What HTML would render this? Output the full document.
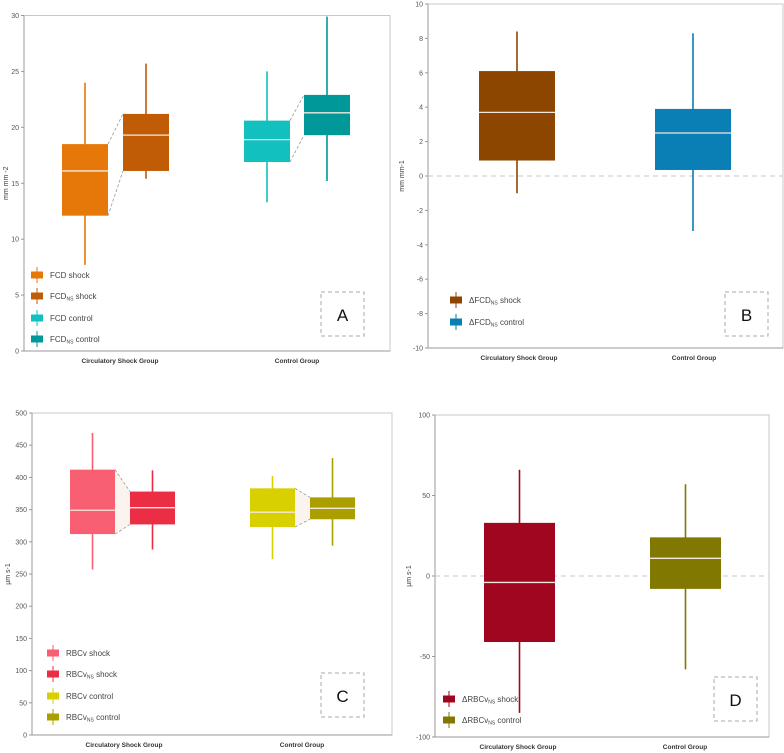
<!DOCTYPE html>
<html><head><meta charset="utf-8">
<style>
html,body{margin:0;padding:0;background:#fff;}
svg{display:block;font-family:"Liberation Sans",sans-serif;}
</style></head>
<body>
<svg id="c" width="784" height="753" viewBox="0 0 784 753" xmlns="http://www.w3.org/2000/svg"></svg>
<script>
const NS='http://www.w3.org/2000/svg';
const svg=document.getElementById('c');
// ---- data ----
const categoriesAll=['Circulatory Shock Group','Control Group'];
// Panel A
const aNames=['FCD shock','FCDNS shock','FCD control','FCDNS control'];
const aLow=[7.7,15.4,13.3,15.2];
const aQ1=[12.1,16.1,16.9,19.3];
const aMed=[16.1,19.3,18.9,21.3];
const aQ3=[18.5,21.2,20.6,22.9];
const aHigh=[24,25.7,25,29.9];
const aTicks=[0,5,10,15,20,25,30];
// Panel B
const bLow=[-1,-3.2];
const bQ1=[0.9,0.35];
const bMed=[3.7,2.5];
const bQ3=[6.1,3.9];
const bHigh=[8.4,8.3];
const bTicks=[-10,-8,-6,-4,-2,0,2,4,6,8,10];
// Panel C
const cLow=[257,288,273,294];
const cQ1=[312,327,323,335];
const cMed=[349,353,346,352];
const cQ3=[412,378,383,369];
const cHigh=[469,411,402,430];
const cTicks=[0,50,100,150,200,250,300,350,400,450,500];
// Panel D
const dLow=[-85,-58];
const dQ1=[-41,-8];
const dMed=[-4,11];
const dQ3=[33,24];
const dHigh=[66,57];
const dTicks=[-100,-50,0,50,100];

function el(tag,attrs,parent){const e=document.createElementNS(NS,tag);for(const k in attrs)e.setAttribute(k,attrs[k]);(parent||svg).appendChild(e);return e;}
function txt(s,attrs,parent){const e=el('text',attrs,parent);e.textContent=s;return e;}

function panel(p){
  const g=el('g',{});
  
  
  const y=v=>p.y0+(v-p.vmin)/(p.vmax-p.vmin)*(p.y1-p.y0);
  // frame
  const fr=el('rect',{x:p.fx0,y:p.y1,width:p.fx1-p.fx0,height:p.y0-p.y1,fill:'none',stroke:'#c8c8c8','stroke-width':1},g);
  
  el('line',{x1:p.fx0,y1:p.y0,x2:p.fx1,y2:p.y0,stroke:'#999','stroke-width':1},g);
  el('line',{x1:p.fx0,y1:p.y0,x2:p.fx0,y2:p.y1,stroke:'#999','stroke-width':1},g);
  p.ticks.forEach(t=>{
    el('line',{x1:p.fx0-3,y1:y(t),x2:p.fx0,y2:y(t),stroke:'#999'},g);
    const tl=txt(String(t),{x:p.fx0-5,y:y(t)+2.5,'font-size':7,fill:'#555','text-anchor':'end'},g);
    
  });
  const yt=txt(p.ytitle,{x:0,y:0,'font-size':7,fill:'#444','text-anchor':'middle',transform:`translate(${p.fx0-p.ytOff},${(p.y0+p.y1)/2}) rotate(-90)`},g);
  
  categoriesAll.forEach((c,i)=>{
    const xl=txt(c,{x:p.catX[i],y:p.y0+12,'font-size':6.5,'font-weight':'bold',fill:'#333','text-anchor':'middle'},g);
    
  });
  if(p.zero){const z=el('line',{x1:p.fx0,y1:y(0),x2:p.fx1,y2:y(0),stroke:'#c8c8c8','stroke-dasharray':'5,4'},g);
    }
  // connectors
  (p.pairs||[]).forEach(([a,b])=>{
    const xa=p.bx[a]+p.bw, xb=p.bx[b];
    if(p.connFill) el('polygon',{points:`${xa},${y(p.q3[a])} ${xb},${y(p.q3[b])} ${xb},${y(p.q1[b])} ${xa},${y(p.q1[a])}`,fill:'#fbf3ee'},g);
    el('line',{x1:xa,y1:y(p.q3[a]),x2:xb,y2:y(p.q3[b]),stroke:'#999','stroke-dasharray':'3,2','stroke-width':0.8},g);
    el('line',{x1:xa,y1:y(p.q1[a]),x2:xb,y2:y(p.q1[b]),stroke:'#999','stroke-dasharray':'3,2','stroke-width':0.8},g);
  });
  p.low.forEach((_,i)=>{
    const bg=el('g',{},g);
    
    
    const cx=p.bx[i]+p.bw/2;
    el('line',{x1:cx,y1:y(p.low[i]),x2:cx,y2:y(p.high[i]),stroke:p.colors[i],'stroke-width':1.6},bg);
    el('rect',{x:p.bx[i],y:y(p.q3[i]),width:p.bw,height:y(p.q1[i])-y(p.q3[i]),fill:p.colors[i]},bg);
    el('line',{x1:p.bx[i],y1:y(p.med[i]),x2:p.bx[i]+p.bw,y2:y(p.med[i]),stroke:'#f4e8dc','stroke-width':1.3},bg);
  });
  // legend
  p.labels.forEach((l,i)=>{
    const lg=el('g',{},g);
    
    
    const ly=p.legY[i];
    el('line',{x1:p.legX+6,y1:ly-8,x2:p.legX+6,y2:ly+8,stroke:p.colors[i],'stroke-width':1},lg);
    el('rect',{x:p.legX,y:ly-3.5,width:12,height:7,fill:p.colors[i]},lg);
    const t=txt('',{x:p.legX+19,y:ly+3,'font-size':8,fill:'#444'},lg);
    t.innerHTML=p.legHtml[i];
  });
  const lb=el('rect',{x:p.box[0],y:p.box[1],width:43,height:44,fill:'none',stroke:'#aaa','stroke-dasharray':'4,3'},g);
  
  const lt=txt(p.letter,{x:p.box[0]+21.5,y:p.box[1]+29,'font-size':17,fill:'#111','text-anchor':'middle'},g);
  
}
const sub='<tspan font-size="5" dy="1.5">NS</tspan><tspan dy="-1.5">';
panel({name:'panel-a',letter:'A',vmin:0,vmax:30,y0:351,y1:15.5,fx0:24,fx1:390,ticks:aTicks,ytitle:'mm mm -2',ytOff:16,
  catX:[120,297],low:aLow,q1:aQ1,med:aMed,q3:aQ3,high:aHigh,bx:[62,123,244,304],bw:46,
  colors:['#e6780a','#c05c06','#12c0c0','#009898'],pairs:[[0,1],[2,3]],
  labels:aNames,legX:31,legY:[275,296,318,339],
  legHtml:['FCD shock','FCD'+sub+' shock</tspan>','FCD control','FCD'+sub+' control</tspan>'],box:[321,292]});
panel({name:'panel-b',letter:'B',vmin:-10,vmax:10,y0:348,y1:4,fx0:428,fx1:783,ticks:bTicks,ytitle:'mm mm-1',ytOff:24,zero:true,
  catX:[519,694],low:bLow,q1:bQ1,med:bMed,q3:bQ3,high:bHigh,bx:[479,655],bw:76,
  colors:['#8c4600','#0a7fb5'],labels:['dFCDNS shock','dFCDNS control'],legX:450,legY:[300,322],
  legHtml:['ΔFCD'+sub+' shock</tspan>','ΔFCD'+sub+' control</tspan>'],box:[725,292]});
panel({name:'panel-c',letter:'C',vmin:0,vmax:500,y0:735,y1:413,fx0:32,fx1:392,ticks:cTicks,ytitle:'µm s-1',ytOff:22,
  catX:[124,302],low:cLow,q1:cQ1,med:cMed,q3:cQ3,high:cHigh,bx:[70,130,250,310],bw:45,
  colors:['#f95f72','#ec2e45','#d8d000','#ab9f00'],pairs:[[0,1],[2,3]],connFill:true,
  labels:['RBCv shock','RBCvNS shock','RBCv control','RBCvNS control'],legX:47,legY:[653,674,696,717],
  legHtml:['RBCv shock','RBCv'+sub+' shock</tspan>','RBCv control','RBCv'+sub+' control</tspan>'],box:[321,673]});
panel({name:'panel-d',letter:'D',vmin:-100,vmax:100,y0:737,y1:415,fx0:435,fx1:769,ticks:dTicks,ytitle:'µm s-1',ytOff:24,zero:true,
  catX:[518,685],low:dLow,q1:dQ1,med:dMed,q3:dQ3,high:dHigh,bx:[484,650],bw:71,
  colors:['#a0061f','#807800'],labels:['dRBCvNS shock','dRBCvNS control'],legX:443,legY:[699,720],
  legHtml:['ΔRBCv'+sub+' shock</tspan>','ΔRBCv'+sub+' control</tspan>'],box:[714,677]});
</script>
</body></html>
